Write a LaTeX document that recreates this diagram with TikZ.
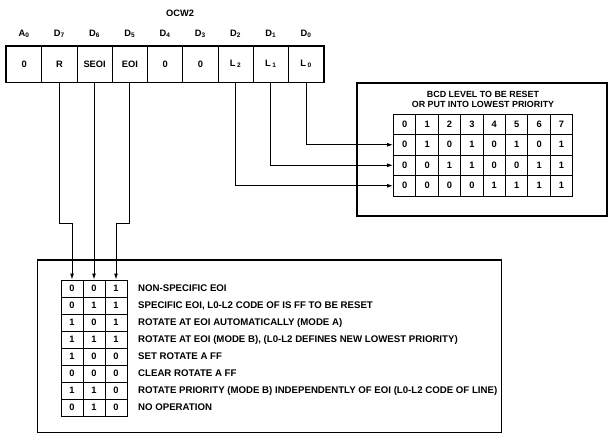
\documentclass[tikz,border=0pt]{standalone}
\usepackage{fontspec}
\setmainfont{Liberation Sans}
\usetikzlibrary{arrows.meta}
\begin{document}
\begin{tikzpicture}[x=1pt,y=-1pt,
  every node/.style={font=\fontsize{9.3}{11}\selectfont\bfseries, inner sep=0pt},
  regcell/.style={draw, line width=0.9pt, minimum width=35.25pt, minimum height=36pt},
  rcell/.style={draw, line width=0.9pt, minimum width=22.4pt, minimum height=20.5pt},
  bcell/.style={draw, line width=0.9pt, minimum width=22pt, minimum height=17pt},
  frame/.style={draw, line width=1.4pt},
  conn/.style={line width=1pt},
  arr/.style={conn, -{Latex[length=6pt,width=4pt]}},
  desc/.style={anchor=west, font=\fontsize{9.65}{11}\selectfont\bfseries}]
\useasboundingbox (0,0) rectangle (609,434);

% title
\node (ocw) at (180,13) {OCW2};

% register
\foreach \t [count=\i from 0] in {0,R,SEOI,EOI,0,0,{L\,\textsubscript{2}},{L\,\textsubscript{1}},{L\,\textsubscript{0}}}
  \node[regcell] (c\i) at ({6.5+35.25*(\i+0.5)},64) {\t};
\foreach \t [count=\i from 0] in {A\textsubscript{0},D\textsubscript{7},D\textsubscript{6},D\textsubscript{5},D\textsubscript{4},D\textsubscript{3},D\textsubscript{2},D\textsubscript{1},D\textsubscript{0}}
  \node (lab\i) at ({6.5+35.25*(\i+0.5)},34) {\t};
\draw[line width=1.8pt] (c0.north west) rectangle (c8.south east);

% right box
\node[frame, minimum width=250pt, minimum height=133pt] (rbox) at (482,149.5) {};
\node[align=center, font=\fontsize{8.9}{10.5}\selectfont\bfseries] (title) at (483,99.5) {BCD LEVEL TO BE RESET\\OR PUT INTO LOWEST PRIORITY};
\foreach \row [count=\r from 0] in {{0,1,2,3,4,5,6,7},{0,1,0,1,0,1,0,1},{0,0,1,1,0,0,1,1},{0,0,0,0,1,1,1,1}}
  \foreach \v [count=\c from 0] in \row
    \node[rcell] (r\r-\c) at ({393.5+22.4*(\c+0.5)},{114+20.5*(\r+0.5)}) {\v};

% bottom box
\node[frame, minimum width=464pt, minimum height=172.5pt] (bbox) at (269.5,346.25) {};
\foreach \a/\b/\cc/\txt [count=\r from 0] in {
  0/0/1/{NON-SPECIFIC EOI},
  0/1/1/{SPECIFIC EOI, L0-L2 CODE OF IS FF TO BE RESET},
  1/0/1/{ROTATE AT EOI AUTOMATICALLY (MODE A)},
  1/1/1/{ROTATE AT EOI (MODE B), (L0-L2 DEFINES NEW LOWEST PRIORITY)},
  1/0/0/{SET ROTATE A FF},
  0/0/0/{CLEAR ROTATE A FF},
  1/1/0/{ROTATE PRIORITY (MODE B) INDEPENDENTLY OF EOI (L0-L2 CODE OF LINE)},
  0/1/0/{NO OPERATION}} {
  \node[bcell] (b\r-0) at (72,{280+17*(\r+0.5)}) {\a};
  \node[bcell] (b\r-1) at (94,{280+17*(\r+0.5)}) {\b};
  \node[bcell] (b\r-2) at (116,{280+17*(\r+0.5)}) {\cc};
  \node[desc] (d\r) at (138,{280+17*(\r+0.5)}) {\txt};
}

% connectors to bottom table
\coordinate (jog) at (0,223);
\draw[arr] (c1.south) -- (c1.south |- jog) -| (b0-0.north);
\draw[arr] (b0-1.north |- c2.south) -- (b0-1.north);
\draw[arr] (c3.south) -- (c3.south |- jog) -| (b0-2.north);

% connectors to right table
\draw[arr] (c8.south) |- (r1-0.west);
\draw[arr] (c7.south) |- (r2-0.west);
\draw[arr] (c6.south) |- (r3-0.west);
\end{tikzpicture}
\end{document}
